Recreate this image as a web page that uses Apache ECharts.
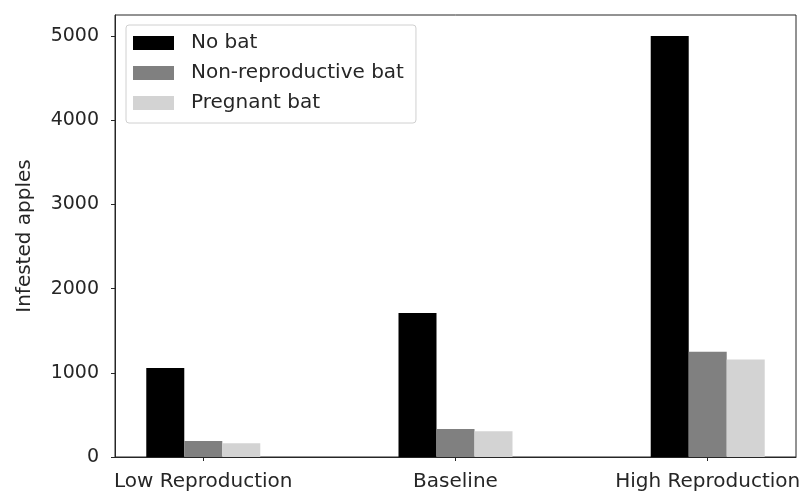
<!DOCTYPE html>
<html>
<head>
<meta charset="utf-8">
<script src="https://cdn.jsdelivr.net/npm/echarts@6/dist/echarts.min.js"></script>
<style>
  html, body { margin: 0; padding: 0; background: #fff; }
  #chart { width: 800px; height: 494px; }
</style>
</head>
<body>
<div id="chart"></div>
<script>
// Scenario groups along the x axis
const categories = ['Low Reproduction', 'Baseline', 'High Reproduction'];
const categoryPositions = [0, 1, 2];

// Infested apple counts per scenario
const noBat = [1056, 1711, 5000];
const nonReproductiveBat = [190, 333, 1250];
const pregnantBat = [163, 306, 1158];

const yTicks = [0, 1000, 2000, 3000, 4000, 5000];

const FONT = 'DejaVu Sans';
const TEXT_SIZE = 20;
const TICK_SIZE = 19;
const INK = '#262626';

function pairs(values) {
  return values.map((v, i) => [categoryPositions[i], v]);
}

const chart = echarts.init(document.getElementById('chart'), null, { renderer: 'canvas' });

chart.setOption({
  animation: false,
  backgroundColor: '#fff',
  textStyle: { fontFamily: FONT },
  grid: {
    left: 115, right: 4, top: 15, bottom: 37,
    outerBoundsMode: 'none',
    containLabel: false,
    show: true, borderColor: INK, borderWidth: 1, backgroundColor: 'transparent'
  },
  legend: {
    orient: 'vertical',
    left: 126, top: 25,
    padding: [8, 12, 10, 7],
    itemWidth: 41, itemHeight: 14, itemGap: 10,
    borderColor: '#d0d0d0', borderWidth: 1, borderRadius: 3,
    backgroundColor: '#fff',
    icon: 'rect',
    textStyle: { fontFamily: FONT, fontSize: TEXT_SIZE, lineHeight: 20, color: INK, padding: [0, 0, 0, 12] },
    data: ['No bat', 'Non-reproductive bat', 'Pregnant bat']
  },
  xAxis: {
    type: 'value',
    min: -0.35, max: 2.35,
    splitLine: { show: false },
    axisLine: { show: true, onZero: false, lineStyle: { color: INK, width: 1 } },
    axisTick: { show: true, length: 4, customValues: categoryPositions, lineStyle: { color: INK } },
    axisLabel: {
      customValues: categoryPositions,
      margin: 15,
      fontFamily: FONT, fontSize: TEXT_SIZE, color: INK,
      formatter: v => categories[Math.round(v)]
    }
  },
  yAxis: {
    type: 'value',
    min: 0, max: 5250,
    name: 'Infested apples',
    nameLocation: 'middle',
    nameGap: 80,
    nameTextStyle: { fontFamily: FONT, fontSize: TEXT_SIZE, color: INK },
    splitLine: { show: false },
    axisLine: { show: true, onZero: false, lineStyle: { color: INK, width: 1 } },
    axisTick: { show: true, length: 4, customValues: yTicks, lineStyle: { color: INK } },
    axisLabel: {
      customValues: yTicks,
      margin: 16,
      fontFamily: FONT, fontSize: TICK_SIZE, color: INK,
      formatter: v => String(v)
    }
  },
  series: [
    {
      name: 'No bat', type: 'bar', data: pairs(noBat),
      barWidth: 38, barGap: '0%',
      itemStyle: { color: '#000000' }
    },
    {
      name: 'Non-reproductive bat', type: 'bar', data: pairs(nonReproductiveBat),
      barWidth: 38, barGap: '0%',
      itemStyle: { color: '#808080' }
    },
    {
      name: 'Pregnant bat', type: 'bar', data: pairs(pregnantBat),
      barWidth: 38, barGap: '0%',
      itemStyle: { color: '#d3d3d3' }
    }
  ]
});
</script>
</body>
</html>
